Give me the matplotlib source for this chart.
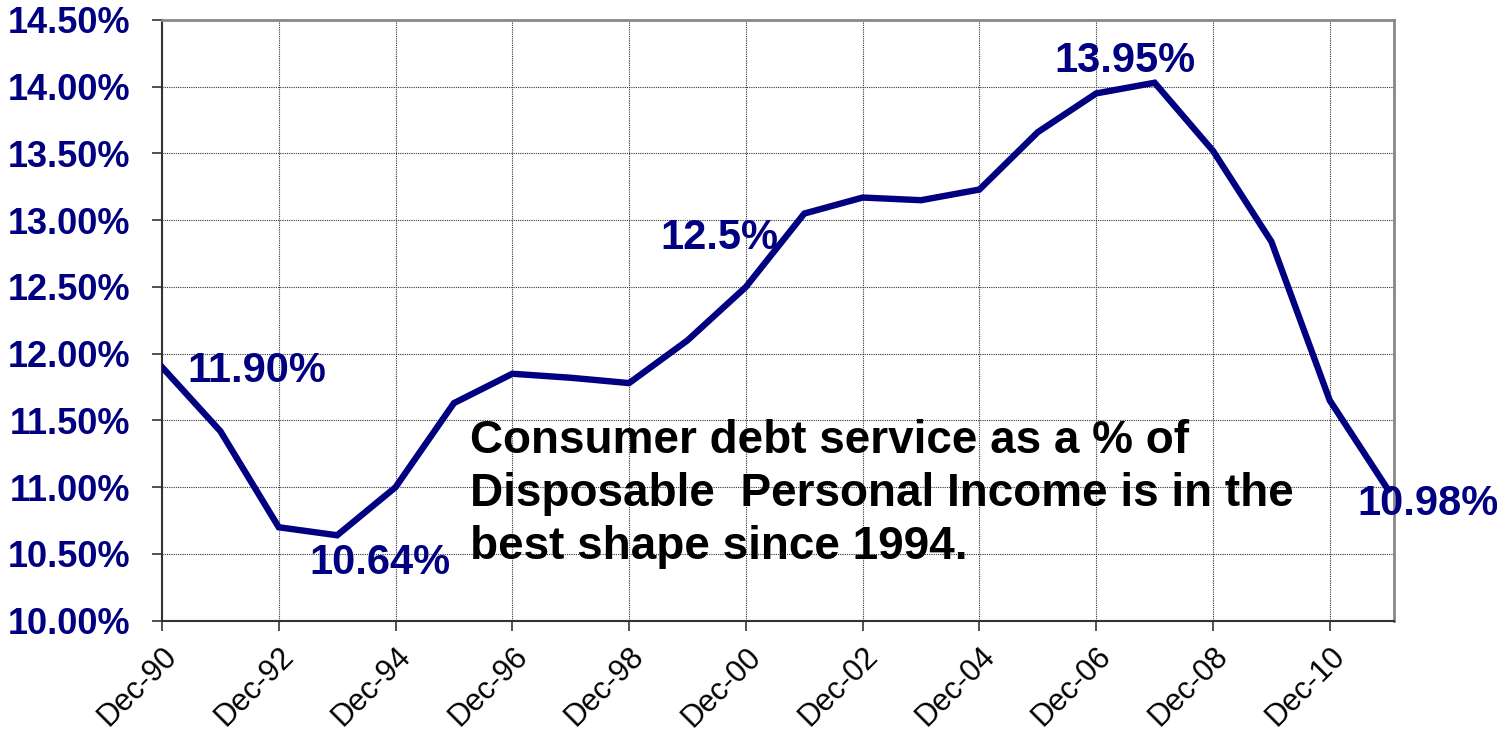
import matplotlib.pyplot as plt
from matplotlib.ticker import FuncFormatter, MultipleLocator

plt.rcParams["font.family"] = ["Liberation Sans", "DejaVu Sans"]

NAVY = "#000080"

# Consumer debt service ratio, year-end values 1990-2011
years = list(range(1990, 2012))
debt_service = [11.90, 11.42, 10.70, 10.64, 11.00, 11.63, 11.85, 11.82, 11.78, 12.10, 12.50,
                13.05, 13.17, 13.15, 13.23, 13.66, 13.95, 14.03, 13.52, 12.84, 11.65, 10.98]
tick_years = list(range(1990, 2011, 2))
tick_labels = ["Dec-%02d" % (y % 100) for y in tick_years]

# which points get a value label, and where the label sits (offset in pixels)
callouts = {1990: ("11.90%", (25, -4), "left"),
            1993: ("10.64%", (43, -28), "center"),
            2000: ("12.5%", (-27, 49), "center"),
            2006: ("13.95%", (29, 32), "center"),
            2011: ("10.98%", (40, -14), "center")}

note = ("Consumer debt service as a % of\n"
        "Disposable  Personal Income is in the\n"
        "best shape since 1994.")

fig = plt.figure(figsize=(14.97, 7.35), dpi=100)
ax = fig.add_axes([0.1082, 0.1555, 0.8230, 0.8173])

x = [y - years[0] for y in years]
ax.plot(x, debt_service, color=NAVY, lw=4.6, solid_joinstyle="miter", zorder=3)

for yr, (txt, off, ha) in callouts.items():
    i = years.index(yr)
    ax.annotate(txt, xy=(x[i], debt_service[i]), xytext=off, textcoords="offset pixels",
                ha=ha, va="center", fontsize=30, fontweight="bold", color=NAVY,
                annotation_clip=False, zorder=4)

ax.text(0.25, 0.211, note, transform=ax.transAxes, ha="left", va="center",
        fontsize=33, fontweight="bold", color="black", linespacing=1.27, zorder=4)

ax.set_xlim(0, 21.1)
ax.set_ylim(10, 14.5)
ax.set_xticks([t - years[0] for t in tick_years])
ax.set_xticklabels(tick_labels, rotation=45, ha="right", va="top", rotation_mode="anchor",
                   fontsize=22, color="black")
ax.yaxis.set_major_locator(MultipleLocator(0.5))
ax.yaxis.set_major_formatter(FuncFormatter(lambda v, p: "%.2f%%" % v))
for lab in ax.get_yticklabels():
    lab.set_fontsize(26)
    lab.set_fontweight("bold")
    lab.set_color(NAVY)

ax.tick_params(axis="both", direction="out", length=7, width=1.2, color="#333333")
ax.tick_params(axis="y", pad=16)
ax.tick_params(axis="x", pad=8)

ax.grid(True, color="#333333", linestyle=(0, (1, 1)), linewidth=0.8, zorder=0)
ax.set_axisbelow(True)

for side in ["left", "bottom"]:
    ax.spines[side].set_color("#333333")
    ax.spines[side].set_linewidth(1.5)
for side in ["top", "right"]:
    ax.spines[side].set_color("#888888")
    ax.spines[side].set_linewidth(2)

fig.savefig("out.png", dpi=100)
